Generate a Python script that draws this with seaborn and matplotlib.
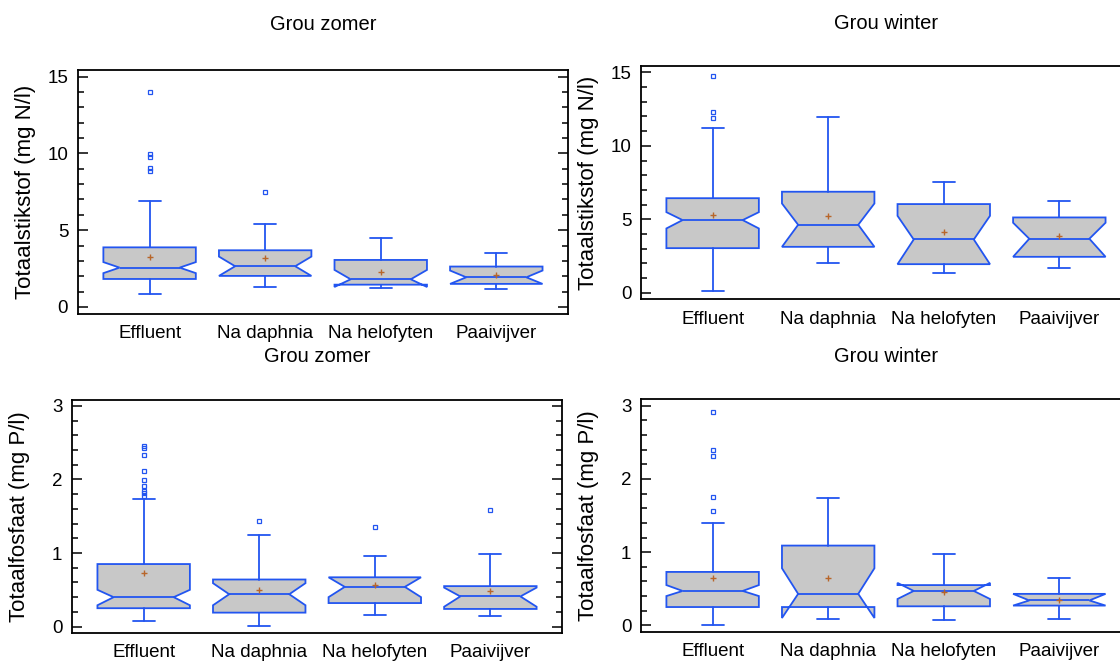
import matplotlib
matplotlib.use("Agg")
import matplotlib.pyplot as plt
import seaborn as sns
from matplotlib.ticker import MultipleLocator

# Groups on the x axis
groups = ["Effluent", "Na daphnia", "Na helofyten", "Paaivijver"]

# Grou zomer - Totaalstikstof (box summary)
zn_q1 = [1.82, 2.02, 1.45, 1.50]
zn_med = [2.56, 2.65, 1.80, 1.93]
zn_q3 = [3.88, 3.69, 3.06, 2.63]
zn_lo = [0.83, 1.30, 1.24, 1.19]
zn_hi = [6.92, 5.42, 4.47, 3.52]
zn_cilo = [2.20, 2.02, 1.30, 1.50]
zn_cihi = [2.92, 3.28, 2.41, 2.37]
zn_mean = [3.22, 3.16, 2.26, 2.06]
zn_fliers = [[14.02, 9.96, 9.79, 9.07, 8.85], [7.48], [], []]

# Grou winter - Totaalstikstof
wn_q1 = [3.04, 3.13, 1.95, 2.45]
wn_med = [4.95, 4.63, 3.63, 3.68]
wn_q3 = [6.44, 6.88, 6.04, 5.13]
wn_lo = [0.11, 2.02, 1.38, 1.70]
wn_hi = [11.23, 11.96, 7.51, 6.24]
wn_cilo = [4.38, 3.13, 1.95, 2.45]
wn_cihi = [5.49, 6.08, 5.24, 4.77]
wn_mean = [5.29, 5.22, 4.15, 3.86]
wn_fliers = [[14.73, 12.28, 11.91], [], [], []]

# Grou zomer - Totaalfosfaat
zp_q1 = [0.25, 0.19, 0.32, 0.24]
zp_med = [0.40, 0.44, 0.54, 0.41]
zp_q3 = [0.85, 0.64, 0.67, 0.55]
zp_lo = [0.08, 0.01, 0.16, 0.15]
zp_hi = [1.74, 1.24, 0.96, 0.99]
zp_cilo = [0.29, 0.29, 0.40, 0.27]
zp_cihi = [0.50, 0.59, 0.67, 0.53]
zp_mean = [0.73, 0.50, 0.57, 0.49]
zp_fliers = [[2.45, 2.43, 2.33, 2.11, 1.99, 1.91, 1.84, 1.81, 1.78], [1.43], [1.36], [1.58]]

# Grou winter - Totaalfosfaat
wp_q1 = [0.25, 0.25, 0.26, 0.27]
wp_med = [0.47, 0.43, 0.47, 0.34]
wp_q3 = [0.73, 1.09, 0.55, 0.43]
wp_lo = [0.01, 0.08, 0.07, 0.08]
wp_hi = [1.40, 1.74, 0.98, 0.65]
wp_cilo = [0.40, 0.10, 0.36, 0.27]
wp_cihi = [0.55, 0.78, 0.58, 0.43]
wp_mean = [0.65, 0.65, 0.45, 0.345]
wp_fliers = [[2.91, 2.40, 2.32, 1.75, 1.56], [], [], []]

BLUE = "#2255f0"
GREY = "#c8c8c8"
MEAN = "#b8662a"

sns.set_theme(style="ticks")
plt.rcParams['font.family'] = ['Liberation Sans', 'DejaVu Sans']
plt.rcParams['axes.linewidth'] = 1.3
plt.rcParams['axes.edgecolor'] = 'black'
plt.rcParams['text.color'] = 'black'
plt.rcParams['axes.labelcolor'] = 'black'
plt.rcParams['xtick.color'] = 'black'
plt.rcParams['ytick.color'] = 'black'


def make_stats(q1, med, q3, lo, hi, cilo, cihi, mean, fliers):
    stats = []
    for i, g in enumerate(groups):
        stats.append(dict(label=g, q1=q1[i], med=med[i], q3=q3[i],
                          whislo=lo[i], whishi=hi[i], cilo=cilo[i],
                          cihi=cihi[i], mean=mean[i], fliers=fliers[i]))
    return stats


def draw_panel(ax, stats, title, ylabel, ylim, major, minor, title_pad):
    lw = 1.3
    art = ax.bxp(stats, positions=range(len(groups)), widths=0.8, capwidths=0.19,
                 shownotches=True, showmeans=True, patch_artist=True,
                 boxprops=dict(facecolor=GREY, edgecolor=BLUE, linewidth=lw),
                 medianprops=dict(color=BLUE, linewidth=lw),
                 whiskerprops=dict(color=BLUE, linewidth=lw),
                 capprops=dict(color=BLUE, linewidth=lw),
                 flierprops=dict(marker='s', markersize=3.5, markerfacecolor='none',
                                 markeredgecolor=BLUE, markeredgewidth=0.9, linestyle='none'),
                 meanprops=dict(marker='+', markersize=4.5, markeredgecolor=MEAN,
                                markeredgewidth=1.0))
    # notches are a bit wider than matplotlib's default
    for i, box in enumerate(art['boxes']):
        v = box.get_path().vertices
        v[3, 0] = i + 0.26
        v[8, 0] = i - 0.26
        art['medians'][i].set_xdata([i - 0.26, i + 0.26])

    ax.set_xlim(-0.62, 3.62)
    ax.set_ylim(*ylim)
    ax.yaxis.set_major_locator(MultipleLocator(major))
    ax.yaxis.set_minor_locator(MultipleLocator(minor))
    ax.tick_params(axis='y', which='major', direction='in', length=7, width=1.1,
                   pad=7, right=True, labelsize=13.5)
    ax.tick_params(axis='y', which='minor', direction='in', length=4, width=1.1,
                   right=True)
    ax.tick_params(axis='x', length=0, pad=8, labelsize=13.5)
    ax.set_xticks(range(len(groups)))
    ax.set_xticklabels(groups)
    ax.set_title(title, fontsize=14.5, pad=title_pad)
    ax.set_ylabel(ylabel, fontsize=16)
    ax.yaxis.set_label_coords(-0.085, 0.5)
    ax.grid(False)


fig = plt.figure(figsize=(11.2, 6.61), dpi=100)

ax1 = fig.add_axes([0.0696, 0.525, 0.4375, 0.369])
ax2 = fig.add_axes([0.5723, 0.547, 0.4375, 0.353])
ax3 = fig.add_axes([0.0643, 0.042, 0.4375, 0.353])
ax4 = fig.add_axes([0.5723, 0.044, 0.4375, 0.352])

draw_panel(ax1, make_stats(zn_q1, zn_med, zn_q3, zn_lo, zn_hi, zn_cilo, zn_cihi, zn_mean, zn_fliers),
           "Grou zomer", "Totaalstikstof (mg N/l)", (-0.46, 15.43), 5, 1, 29)
draw_panel(ax2, make_stats(wn_q1, wn_med, wn_q3, wn_lo, wn_hi, wn_cilo, wn_cihi, wn_mean, wn_fliers),
           "Grou winter", "Totaalstikstof (mg N/l)", (-0.45, 15.43), 5, 1, 27)
draw_panel(ax3, make_stats(zp_q1, zp_med, zp_q3, zp_lo, zp_hi, zp_cilo, zp_cihi, zp_mean, zp_fliers),
           "Grou zomer", "Totaalfosfaat (mg P/l)", (-0.09, 3.08), 1, 0.2, 27)
draw_panel(ax4, make_stats(wp_q1, wp_med, wp_q3, wp_lo, wp_hi, wp_cilo, wp_cihi, wp_mean, wp_fliers),
           "Grou winter", "Totaalfosfaat (mg P/l)", (-0.09, 3.09), 1, 0.2, 27)

fig.savefig("out.png", dpi=100)
